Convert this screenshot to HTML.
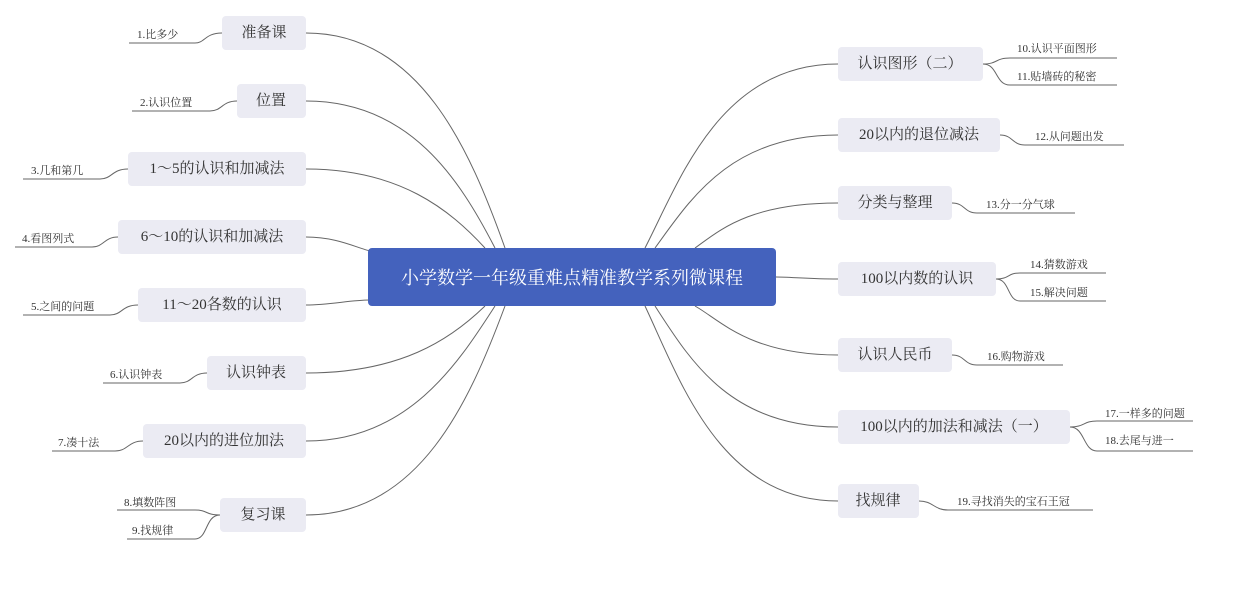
<!DOCTYPE html>
<html><head><meta charset="utf-8"><style>
html,body{margin:0;padding:0;background:#fff;}
svg text{font-family:"Liberation Serif","Noto Serif CJK SC","Noto Sans CJK SC",serif;fill:#333;}
.n{fill:#ebebf3;}
.t{font-size:15px;text-anchor:middle;dominant-baseline:central;}
.l{font-size:11px;}
path,line{fill:none;stroke:#666;stroke-width:1;}
</style></head><body>
<svg width="1233" height="588" viewBox="0 0 1233 588">
<!-- connectors center -> left -->
<path d="M306 33 C420 33 470 150 505 248"/>
<path d="M306 101 C410 101 460 180 495 248"/>
<path d="M306 169 C400 169 450 210 485 248"/>
<path d="M306 237 C340 237 360 250 375 252"/>
<path d="M306 305 C330 305 350 300 370 300"/>
<path d="M306 373 C400 373 450 340 485 306"/>
<path d="M306 441 C410 441 460 360 495 306"/>
<path d="M306 515 C420 515 470 400 505 306"/>
<!-- right -->
<path d="M838 64 C720 64 680 180 645 248"/>
<path d="M838 135 C730 135 690 200 655 248"/>
<path d="M838 203 C750 203 720 230 695 248"/>
<path d="M838 279 C810 279 790 277 776 277"/>
<path d="M838 355 C750 355 720 320 695 306"/>
<path d="M838 427 C730 427 690 360 655 306"/>
<path d="M838 501 C720 501 680 380 645 306"/>
<!-- leaf connectors left -->
<path d="M222 33 C205 33 205 43 195 43"/><line x1="129" y1="43" x2="195" y2="43"/>
<path d="M237 101 C222 101 222 111 210 111"/><line x1="132" y1="111" x2="210" y2="111"/>
<path d="M128 169 C112 169 112 179 100 179"/><line x1="23" y1="179" x2="100" y2="179"/>
<path d="M118 237 C104 237 104 247 92 247"/><line x1="15" y1="247" x2="92" y2="247"/>
<path d="M138 305 C122 305 122 315 110 315"/><line x1="23" y1="315" x2="110" y2="315"/>
<path d="M207 373 C192 373 192 383 180 383"/><line x1="103" y1="383" x2="180" y2="383"/>
<path d="M143 441 C128 441 128 451 115 451"/><line x1="52" y1="451" x2="115" y2="451"/>
<path d="M220 515 C205 515 208 510 195 510"/><line x1="117" y1="510" x2="195" y2="510"/>
<path d="M220 515 C205 515 208 539 195 539"/><line x1="127" y1="539" x2="195" y2="539"/>
<!-- leaf connectors right -->
<path d="M983 64 C998 64 995 58 1010 58"/><line x1="1010" y1="58" x2="1117" y2="58"/>
<path d="M983 64 C998 64 995 85 1010 85"/><line x1="1010" y1="85" x2="1117" y2="85"/>
<path d="M1000 135 C1013 135 1012 145 1025 145"/><line x1="1025" y1="145" x2="1124" y2="145"/>
<path d="M952 203 C965 203 964 213 977 213"/><line x1="977" y1="213" x2="1075" y2="213"/>
<path d="M996 279 C1010 279 1007 273 1020 273"/><line x1="1020" y1="273" x2="1106" y2="273"/>
<path d="M996 279 C1010 279 1007 301 1020 301"/><line x1="1020" y1="301" x2="1106" y2="301"/>
<path d="M952 355 C965 355 964 365 977 365"/><line x1="977" y1="365" x2="1063" y2="365"/>
<path d="M1070 427 C1085 427 1083 421 1097 421"/><line x1="1097" y1="421" x2="1193" y2="421"/>
<path d="M1070 427 C1085 427 1083 451 1097 451"/><line x1="1097" y1="451" x2="1193" y2="451"/>
<path d="M919 501 C933 501 934 510 948 510"/><line x1="948" y1="510" x2="1093" y2="510"/>
<!-- center -->
<rect x="368" y="248" width="408" height="58" rx="4" fill="#4462bd"/>
<text x="572" y="278" class="t" style="fill:#fff;font-size:18px">小学数学一年级重难点精准教学系列微课程</text>
<!-- left nodes -->
<rect class="n" x="222" y="16" width="84" height="34" rx="4"/><text class="t" x="264" y="33">准备课</text>
<rect class="n" x="237" y="84" width="69" height="34" rx="4"/><text class="t" x="271" y="101">位置</text>
<rect class="n" x="128" y="152" width="178" height="34" rx="4"/><text class="t" x="217" y="169">1～5的认识和加减法</text>
<rect class="n" x="118" y="220" width="188" height="34" rx="4"/><text class="t" x="212" y="237">6～10的认识和加减法</text>
<rect class="n" x="138" y="288" width="168" height="34" rx="4"/><text class="t" x="222" y="305">11～20各数的认识</text>
<rect class="n" x="207" y="356" width="99" height="34" rx="4"/><text class="t" x="256" y="373">认识钟表</text>
<rect class="n" x="143" y="424" width="163" height="34" rx="4"/><text class="t" x="224" y="441">20以内的进位加法</text>
<rect class="n" x="220" y="498" width="86" height="34" rx="4"/><text class="t" x="263" y="515">复习课</text>
<!-- right nodes -->
<rect class="n" x="838" y="47" width="145" height="34" rx="4"/><text class="t" x="910" y="64">认识图形（二）</text>
<rect class="n" x="838" y="118" width="162" height="34" rx="4"/><text class="t" x="919" y="135">20以内的退位减法</text>
<rect class="n" x="838" y="186" width="114" height="34" rx="4"/><text class="t" x="895" y="203">分类与整理</text>
<rect class="n" x="838" y="262" width="158" height="34" rx="4"/><text class="t" x="917" y="279">100以内数的认识</text>
<rect class="n" x="838" y="338" width="114" height="34" rx="4"/><text class="t" x="895" y="355">认识人民币</text>
<rect class="n" x="838" y="410" width="232" height="34" rx="4"/><text class="t" x="954" y="427">100以内的加法和减法（一）</text>
<rect class="n" x="838" y="484" width="81" height="34" rx="4"/><text class="t" x="878" y="501">找规律</text>
<!-- leaf labels -->
<text class="l" x="137" y="38">1.比多少</text>
<text class="l" x="140" y="106">2.认识位置</text>
<text class="l" x="31" y="174">3.几和第几</text>
<text class="l" x="22" y="242">4.看图列式</text>
<text class="l" x="31" y="310">5.之间的问题</text>
<text class="l" x="110" y="378">6.认识钟表</text>
<text class="l" x="58" y="446">7.凑十法</text>
<text class="l" x="124" y="506">8.填数阵图</text>
<text class="l" x="132" y="534">9.找规律</text>
<text class="l" x="1017" y="52">10.认识平面图形</text>
<text class="l" x="1017" y="80">11.贴墙砖的秘密</text>
<text class="l" x="1035" y="140">12.从问题出发</text>
<text class="l" x="986" y="208">13.分一分气球</text>
<text class="l" x="1030" y="268">14.猜数游戏</text>
<text class="l" x="1030" y="296">15.解决问题</text>
<text class="l" x="987" y="360">16.购物游戏</text>
<text class="l" x="1105" y="417">17.一样多的问题</text>
<text class="l" x="1105" y="444">18.去尾与进一</text>
<text class="l" x="957" y="505">19.寻找消失的宝石王冠</text>
</svg>
</body></html>
